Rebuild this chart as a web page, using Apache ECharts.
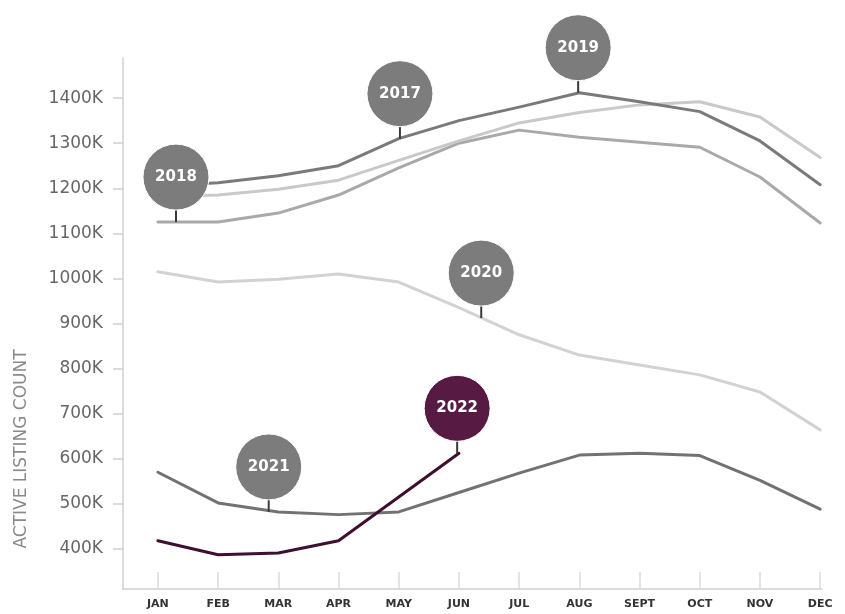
<!DOCTYPE html>
<html>
<head>
<meta charset="utf-8">
<script src="https://cdn.jsdelivr.net/npm/echarts@6/dist/echarts.min.js"></script>
<style>
  html, body { margin: 0; padding: 0; background: #fff; }
  #chart { width: 845px; height: 614px; }
</style>
</head>
<body>
<div id="chart"></div>
<script>
// Month categories along the x axis
const months = ['JAN', 'FEB', 'MAR', 'APR', 'MAY', 'JUN', 'JUL', 'AUG', 'SEPT', 'OCT', 'NOV', 'DEC'];
// Y axis tick values (thousands of listings)
const yTicks = [400, 500, 600, 700, 800, 900, 1000, 1100, 1200, 1300, 1400];

// Active listing counts per month, in thousands
const y2017 = [1182, 1185, 1198, 1218, 1262, 1305, 1345, 1368, 1385, 1392, 1358, 1268];
const y2018 = [1125, 1125, 1145, 1185, 1245, 1300, 1329, 1313, 1302, 1291, 1225, 1123];
const y2019 = [1205, 1212, 1228, 1250, 1310, 1350, 1380, 1412, 1392, 1370, 1305, 1208];
const y2020 = [1015, 992, 998, 1010, 992, 935, 875, 830, 808, 786, 748, 664];
const y2021 = [570, 502, 482, 476, 482, 525, 568, 608, 612, 607, 552, 488];
const y2022 = [418, 387, 391, 418, 515, 612];

// Year badges: label, month position and the value the badge points to
const pinYears = ['2018', '2017', '2019', '2020', '2021', '2022'];
const pinMonth = [0.3, 4.02, 6.98, 5.37, 1.84, 4.97];
const pinValue = [1125, 1310, 1412, 912, 482, 612];

const toPoints = arr => arr.map((v, i) => [i, v]);
const idx = months.map((_, i) => i);

function lineSeries(name, arr, color, width) {
  return {
    name, type: 'line', data: toPoints(arr),
    symbol: 'none', smooth: false,
    lineStyle: { color, width, cap: 'round', join: 'round' },
    silent: true
  };
}

const chart = echarts.init(document.getElementById('chart'), null, { renderer: 'canvas' });

chart.setOption({
  animation: false,
  backgroundColor: '#ffffff',
  grid: { left: 123, right: 23, top: 58, bottom: 25 },
  xAxis: {
    type: 'value',
    min: -0.58, max: 11.03,
    splitLine: { show: false },
    axisLine: { show: true, onZero: false, lineStyle: { color: '#cfcfcf', width: 1.5 } },
    axisTick: { show: true, inside: true, length: 17, customValues: idx,
      lineStyle: { color: '#dcdcdc', width: 1.5 } },
    axisLabel: { customValues: idx, formatter: v => months[Math.round(v)],
      color: '#333', fontSize: 11, fontWeight: 'bold', fontFamily: 'DejaVu Sans', margin: 10 }
  },
  yAxis: {
    type: 'value',
    min: 311, max: 1489,
    splitLine: { show: false },
    axisLine: { show: true, onZero: false, lineStyle: { color: '#cfcfcf', width: 1.5 } },
    axisTick: { show: true, length: 10, customValues: yTicks,
      lineStyle: { color: '#cfcfcf', width: 1.5 } },
    axisLabel: { customValues: yTicks, formatter: v => v + 'K',
      color: '#666', fontSize: 17, fontFamily: 'DejaVu Sans', margin: 20 }
  },
  graphic: [{
    type: 'text',
    x: 22, y: 449, rotation: Math.PI / 2,
    style: { text: 'ACTIVE LISTING COUNT', fill: '#8a8a8a', font: '17px "DejaVu Sans"',
      align: 'center', verticalAlign: 'middle', textAlign: 'center', textVerticalAlign: 'middle' }
  }],
  series: [
    lineSeries('2020', y2020, '#d2d2d2', 3),
    lineSeries('2018', y2018, '#a9a9a9', 3),
    lineSeries('2017', y2017, '#c9c9c9', 3),
    lineSeries('2019', y2019, '#7a7a7a', 3),
    lineSeries('2021', y2021, '#727272', 3),
    lineSeries('2022', y2022, '#3f0f2f', 3),
    {
      name: 'badges', type: 'custom', z: 10, silent: true,
      data: pinYears.map((y, i) => [pinMonth[i], pinValue[i], i]),
      renderItem: function (params, api) {
        const i = api.value(2);
        const p = api.coord([api.value(0), api.value(1)]);
        const r = 33, off = 45;
        const cy = p[1] - off;
        const fill = pinYears[i] === '2022' ? '#561a43' : '#7c7c7c';
        return {
          type: 'group',
          children: [
            { type: 'line', shape: { x1: p[0], y1: p[1], x2: p[0], y2: cy },
              style: { stroke: '#3a3a3a', lineWidth: 2 } },
            { type: 'circle', shape: { cx: p[0], cy: cy, r: r },
              style: { fill: fill, stroke: '#ffffff', lineWidth: 1 } },
            { type: 'text',
              style: { text: pinYears[i], x: p[0], y: cy, fill: '#ffffff',
                font: 'bold 15px "DejaVu Sans"',
                align: 'center', verticalAlign: 'middle',
                textAlign: 'center', textVerticalAlign: 'middle' } }
          ]
        };
      }
    }
  ]
});
</script>
</body>
</html>
